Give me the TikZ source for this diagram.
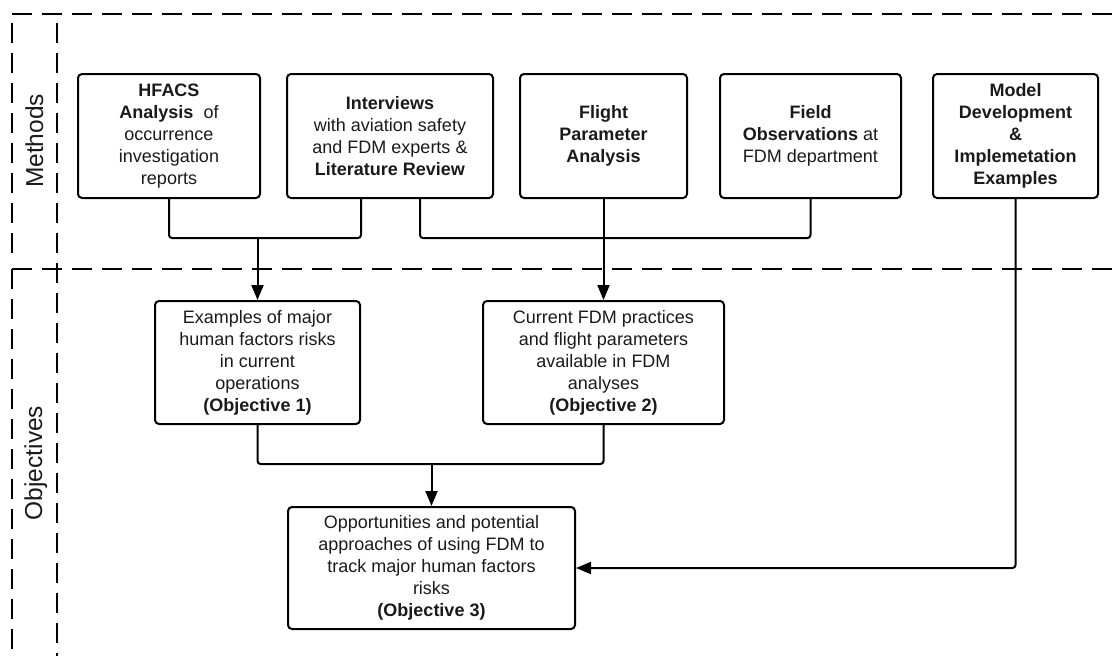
\documentclass[tikz,border=0pt]{standalone}
\usepackage{fontspec}
\setmainfont{Liberation Sans}
\usetikzlibrary{arrows.meta}
\definecolor{ink}{HTML}{1A1A1A}
\begin{document}
\begin{tikzpicture}[x=1pt,y=-1pt,
  box/.style={draw=black, line width=2pt, rounded corners=4pt, align=center,
    inner sep=0pt, text=ink, font=\fontsize{18}{22}\selectfont},
  zone/.style={line width=2pt, dash pattern=on 20pt off 10pt},
  conn/.style={line width=2pt, rounded corners=3pt},
  arr/.style={line width=2pt, rounded corners=3pt, -{Triangle[length=15pt,width=12pt]}},
  lane/.style={rotate=90, anchor=base, text=ink, font=\fontsize{24.5}{28}\selectfont}]
\useasboundingbox (0,0) rectangle (1112,656);

% swim-lane borders
\draw[zone] (12,14) -- (1112,14);
\draw[zone] (12,23) -- (12,262);
\draw[zone] (57,23) -- (57,656);
\draw[zone] (12,269) -- (1112,269);
\draw[zone] (12,269) -- (12,656);

% lane titles
\node[lane] (lm) at (43,141) {Methods};
\node[lane] (lo) at (42,463) {Objectives};

% methods
\node[box, minimum width=182pt, minimum height=124pt] (m1) at (169,136)
  {\textbf{HFACS}\\\textbf{Analysis}\ \ of\\occurrence\\investigation\\reports};
\node[box, minimum width=206pt, minimum height=124pt] (m2) at (390,136)
  {\textbf{Interviews}\\with aviation safety\\and FDM experts \&\\\textbf{Literature Review}};
\node[box, minimum width=167pt, minimum height=124pt] (m3) at (603.5,136)
  {\textbf{Flight}\\\textbf{Parameter}\\\textbf{Analysis}};
\node[box, minimum width=181pt, minimum height=124pt] (m4) at (810.5,136)
  {\textbf{Field}\\\textbf{Observations} at\\FDM department};
\node[box, minimum width=165pt, minimum height=124pt] (m5) at (1015.5,136)
  {\textbf{Model}\\\textbf{Development}\\\textbf{\&}\\\textbf{Implemetation}\\\textbf{Examples}};

% objectives
\node[box, minimum width=205pt, minimum height=123pt] (o1) at (257.5,362.5)
  {Examples of major\\human factors risks\\in current\\operations\\\textbf{(Objective 1)}};
\node[box, minimum width=241pt, minimum height=123pt] (o2) at (603.5,362.5)
  {Current FDM practices\\and flight parameters\\available in FDM\\analyses\\\textbf{(Objective 2)}};
\node[box, minimum width=287pt, minimum height=122pt] (o3) at (431.5,568)
  {Opportunities and potential\\approaches of using FDM to\\track major human factors\\risks\\\textbf{(Objective 3)}};

% junction points
\coordinate (busL) at (257.5,238);
\coordinate (busB) at (431.5,464);

% connectors
\draw[conn] (m1.south) |- (busL) -| ([xshift=-29pt]m2.south);
\draw[arr] (busL) -- (o1.north);
\draw[conn] ([xshift=30pt]m2.south) |- (m4.south |- busL) -- (m4.south);
\draw[arr] (m3.south) -- (o2.north);
\draw[conn] (o1.south) |- (busB) -| (o2.south);
\draw[arr] (busB) -- (o3.north);
\draw[arr] (m5.south) |- (o3.east);
\end{tikzpicture}
\end{document}
